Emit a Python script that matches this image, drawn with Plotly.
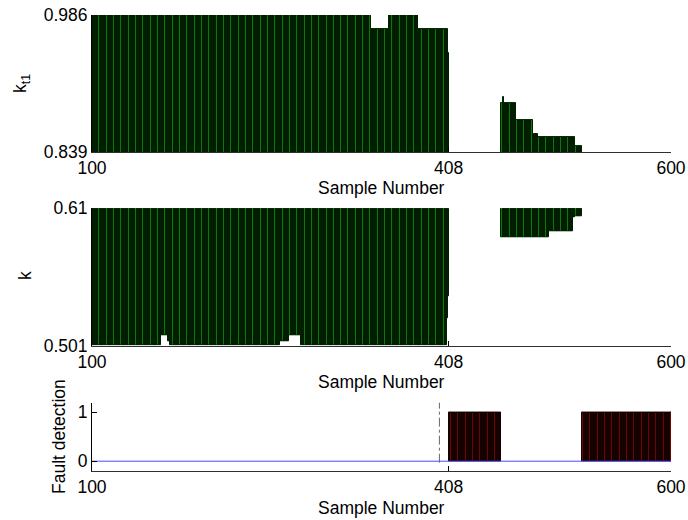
import plotly.graph_objects as go

# ---------------- data ----------------
x_min, x_max = 100, 600
x_ticks = [100, 408, 600]

# panel 1 : k_t1 (bars rising from the axis floor)
kt1_range = [0.839, 0.986]
kt1_seg_start = [100, 341, 357, 382, 408, 454, 455, 456, 467, 481, 486, 518]
kt1_seg_end   = [340, 356, 381, 407, 408, 454, 455, 466, 480, 485, 517, 523]
kt1_seg_value = [0.986, 0.971, 0.986, 0.971, 0.945, 0.892, 0.898, 0.892, 0.873, 0.858, 0.855, 0.845]

# panel 2 : k (bars hanging from the axis top down to a lower value)
k_range = [0.501, 0.61]
k_top = 0.61
k_seg_start = [100, 160, 166, 168, 263, 271, 281, 407, 408, 454, 495, 516, 518]
k_seg_end   = [159, 165, 167, 262, 270, 280, 406, 407, 408, 494, 515, 517, 523]
k_seg_low   = [0.501, 0.509, 0.504, 0.501, 0.504, 0.509, 0.501, 0.523, 0.540, 0.587, 0.592, 0.6025, 0.604]

# panel 3 : fault detection
fd_range = [-0.2, 1.2]
fd_ticks = [0, 1]
fd_seg_start = [409, 524]
fd_seg_end = [453, 600]
fd_value = 1
fd_baseline = 0
fault_onset = 400


def expand(starts, ends, vals):
    xs, ys = [], []
    for s, e, v in zip(starts, ends, vals):
        for n in range(s, e + 1):
            xs.append(n)
            ys.append(v)
    return xs, ys


FONT = "Liberation Sans, Arial, Helvetica, sans-serif"
FS = 17.5
GREEN_FILL, GREEN_EDGE = "#0a780a", "#011e01"
RED_FILL, RED_EDGE = "#6e0505", "#160101"

kt1_x, kt1_y = expand(kt1_seg_start, kt1_seg_end, kt1_seg_value)
k_x, k_low = expand(k_seg_start, k_seg_end, k_seg_low)
fd_x, fd_y = expand(fd_seg_start, fd_seg_end, [fd_value] * len(fd_seg_start))

fig = go.Figure()

fig.add_trace(go.Bar(x=kt1_x, y=kt1_y, xaxis="x", yaxis="y",
                     marker=dict(color=GREEN_FILL, line=dict(color=GREEN_EDGE, width=1)),
                     showlegend=False))
fig.add_trace(go.Bar(x=k_x, y=[k_top - v for v in k_low], base=k_low,
                     xaxis="x2", yaxis="y2",
                     marker=dict(color=GREEN_FILL, line=dict(color=GREEN_EDGE, width=1)),
                     showlegend=False))
fig.add_trace(go.Scatter(x=[x_min, x_max], y=[fd_baseline, fd_baseline], mode="lines",
                         line=dict(color="#4a4aff", width=1), xaxis="x3", yaxis="y3",
                         showlegend=False))
fig.add_trace(go.Bar(x=fd_x, y=fd_y, xaxis="x3", yaxis="y3",
                     marker=dict(color=RED_FILL, line=dict(color=RED_EDGE, width=1)),
                     showlegend=False))
fig.add_trace(go.Scatter(x=[fault_onset, fault_onset], y=[-0.03, fd_range[1]], mode="lines",
                         line=dict(color="#666666", width=1, dash="dashdot"),
                         xaxis="x3", yaxis="y3", showlegend=False))

# layout geometry (page pixels; the page body margin is removed below)
W, H = 688, 520
L, R, T, B = 92, 17, 15, 49
plot_h = H - T - B
plot_w = W - L - R


def fy(px):
    return (H - B - px) / plot_h


def fx(px):
    return (px - L) / plot_w


xcommon = dict(range=[x_min, x_max], tickvals=x_ticks, ticktext=[str(t) for t in x_ticks],
               ticks="inside", ticklen=5, tickcolor="black", showline=True,
               linecolor="#303030", linewidth=1, showgrid=False, zeroline=False,
               automargin=False, ticklabeloverflow="allow",
               tickfont=dict(family=FONT, size=FS, color="black"))
ycommon = dict(ticks="inside", ticklen=5, tickcolor="black", showline=True,
               linecolor="black", linewidth=1, showgrid=False, zeroline=False,
               automargin=False, ticklabeloverflow="allow",
               tickfont=dict(family=FONT, size=FS, color="black"))

fig.update_layout(
    width=W, height=H,
    margin=dict(l=L, r=R, t=T, b=B, autoexpand=False),
    paper_bgcolor="white", plot_bgcolor="white",
    barmode="overlay", bargap=0, hovermode=False,
    font=dict(family=FONT, size=FS, color="black"),
    xaxis=dict(domain=[0, 1], anchor="y", **xcommon),
    yaxis=dict(domain=[fy(152), 1], anchor="x", range=kt1_range, tickvals=kt1_range,
               ticktext=["%.3f" % v for v in kt1_range], **ycommon),
    xaxis2=dict(domain=[0, 1], anchor="y2", **xcommon),
    yaxis2=dict(domain=[fy(345.5), fy(208.3)], anchor="x2", range=k_range, tickvals=k_range,
                ticktext=["0.501", "0.61"], **ycommon),
    xaxis3=dict(domain=[0, 1], anchor="y3", **xcommon),
    yaxis3=dict(domain=[0, fy(402.5)], anchor="x3", range=fd_range, tickvals=fd_ticks,
                ticktext=[str(v) for v in fd_ticks], **ycommon),
)

ann = []
for y_axis_px in (151.7, 345.5, 471):
    ann.append(dict(text="Sample Number", x=0.5, y=fy(y_axis_px + 36.5), xref="paper",
                    yref="paper", xanchor="center", yanchor="middle", showarrow=False,
                    font=dict(family=FONT, size=FS, color="black")))
ann.append(dict(text="k<sub>t1</sub>", x=fx(22), y=fy(84), xref="paper", yref="paper",
                xanchor="center", yanchor="middle", textangle=-90, showarrow=False,
                font=dict(family=FONT, size=FS, color="black")))
ann.append(dict(text="k", x=fx(25), y=fy(276), xref="paper", yref="paper",
                xanchor="center", yanchor="middle", textangle=-90, showarrow=False,
                font=dict(family=FONT, size=FS, color="black")))
ann.append(dict(text="Fault detection", x=fx(59), y=fy(437), xref="paper", yref="paper",
                xanchor="center", yanchor="middle", textangle=-90, showarrow=False,
                font=dict(family=FONT, size=FS, color="black")))
fig.update_layout(annotations=ann)

fig.write_html("out.html", config={"displayModeBar": False},
               post_script="document.body.style.margin='0px';document.body.style.overflow='hidden';")
